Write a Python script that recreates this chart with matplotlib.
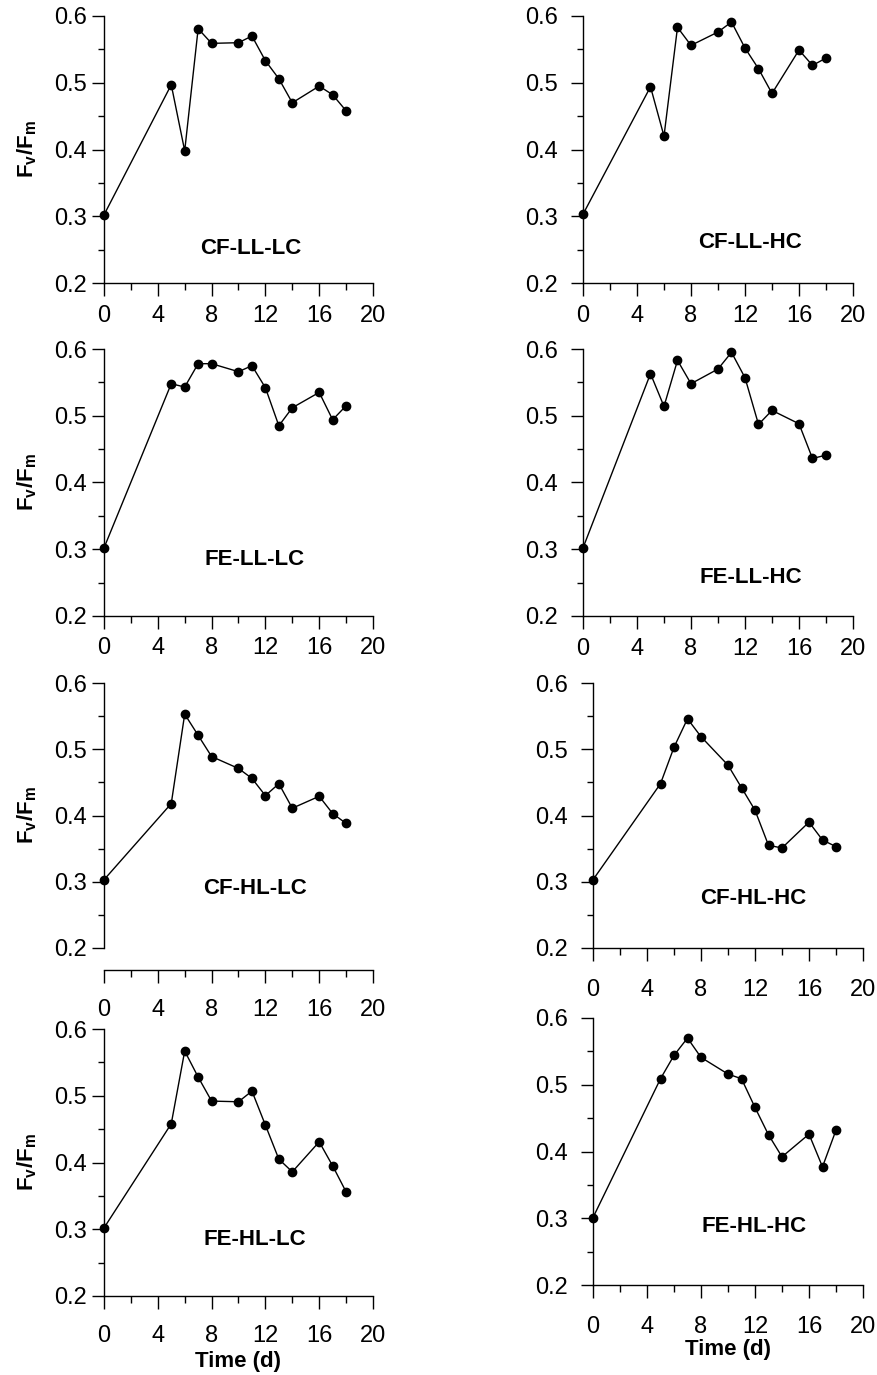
import numpy as np
import matplotlib
matplotlib.use("Agg")
import matplotlib.pyplot as plt
from matplotlib.ticker import MultipleLocator

plt.rcParams['font.family'] = ['Liberation Sans', 'DejaVu Sans']
plt.rcParams['mathtext.fontset'] = 'custom'
plt.rcParams['mathtext.rm'] = 'Liberation Sans'
plt.rcParams['mathtext.bf'] = 'Liberation Sans:bold'
plt.rcParams['mathtext.it'] = 'Liberation Sans:italic'

# sampling days
days = [0, 5, 6, 7, 8, 10, 11, 12, 13, 14, 16, 17, 18]

# Fv/Fm per treatment
cf_ll_lc = [0.302, 0.497, 0.398, 0.581, 0.559, 0.560, 0.570, 0.533, 0.506, 0.470, 0.495, 0.482, 0.458]
cf_ll_hc = [0.303, 0.494, 0.420, 0.583, 0.556, 0.576, 0.591, 0.552, 0.521, 0.484, 0.549, 0.526, 0.537]
fe_ll_lc = [0.302, 0.548, 0.543, 0.578, 0.578, 0.566, 0.575, 0.542, 0.485, 0.512, 0.535, 0.494, 0.515]
fe_ll_hc = [0.302, 0.563, 0.514, 0.583, 0.548, 0.570, 0.595, 0.557, 0.487, 0.508, 0.488, 0.436, 0.441]
cf_hl_lc = [0.303, 0.418, 0.553, 0.521, 0.489, 0.471, 0.456, 0.430, 0.448, 0.411, 0.429, 0.403, 0.388]
cf_hl_hc = [0.303, 0.448, 0.503, 0.546, 0.519, 0.476, 0.442, 0.408, 0.355, 0.351, 0.390, 0.363, 0.353]
fe_hl_lc = [0.302, 0.458, 0.567, 0.528, 0.492, 0.491, 0.507, 0.456, 0.405, 0.386, 0.431, 0.395, 0.356]
fe_hl_hc = [0.301, 0.509, 0.544, 0.570, 0.541, 0.516, 0.509, 0.466, 0.425, 0.392, 0.426, 0.377, 0.432]

names = ['CF-LL-LC', 'CF-LL-HC', 'FE-LL-LC', 'FE-LL-HC',
         'CF-HL-LC', 'CF-HL-HC', 'FE-HL-LC', 'FE-HL-HC']
series = [cf_ll_lc, cf_ll_hc, fe_ll_lc, fe_ll_hc,
          cf_hl_lc, cf_hl_hc, fe_hl_lc, fe_hl_hc]
# where the treatment name sits (data coords)
name_pos = [(10.9, 0.252), (12.4, 0.261), (11.2, 0.284), (12.4, 0.258),
            (11.2, 0.290), (11.9, 0.275), (11.2, 0.284), (11.9, 0.288)]

W, H = 878, 1375
fig = plt.figure(figsize=(W / 100, H / 100), dpi=100)

# panel boxes in pixels: left, right, top, bottom
boxes = [(104, 373, 16, 283), (583, 853, 16, 283),
         (104, 373, 349, 616), (583, 853, 349, 616),
         (104, 373, 683, 948), (593, 863, 683, 948),
         (104, 373, 1029, 1296), (593, 863, 1018, 1285)]
xpads = [7, 7, 6, 7, 12, 13, 12, 13]
xoffset = [0, 0, 0, 0, 16, 0, 0, 0]
# top of the "Time (d)" text under the bottom row, pixels
time_top = {6: 1351, 7: 1339}

for i, (name, vals) in enumerate(zip(names, series)):
    l, r, t, b = boxes[i]
    ax = fig.add_axes([l / W, 1 - b / H, (r - l) / W, (b - t) / H])
    ax.plot(days, vals, '-', color='black', lw=1.0,
            marker='o', ms=6, mfc='black', mec='black', clip_on=False)
    ax.set_xlim(0, 20)
    ax.set_ylim(0.2, 0.6)
    ax.spines['top'].set_visible(False)
    ax.spines['right'].set_visible(False)
    ax.spines['left'].set_linewidth(1.0)
    ax.spines['bottom'].set_linewidth(1.0)
    if xoffset[i]:
        ax.spines['bottom'].set_position(('outward', xoffset[i]))
    ax.xaxis.set_major_locator(MultipleLocator(4))
    ax.xaxis.set_minor_locator(MultipleLocator(2))
    ax.yaxis.set_minor_locator(MultipleLocator(0.05))
    ax.set_yticks([0.2, 0.3, 0.4, 0.5, 0.6])
    ax.set_yticklabels(['0.2', '0.3', '0.4', '0.5', '0.6'])
    ax.tick_params(axis='x', which='major', direction='out', length=9, width=1.0,
                   labelsize=17, pad=xpads[i])
    ax.tick_params(axis='x', which='minor', direction='out', length=5, width=1.0)
    ax.tick_params(axis='y', which='major', direction='out', length=9, width=1.0,
                   labelsize=17, pad=3 if i % 2 == 0 else 9)
    ax.tick_params(axis='y', which='minor', direction='out', length=4.5, width=1.0)
    ax.text(name_pos[i][0], name_pos[i][1], name, ha='center', va='center',
            fontsize=16, fontweight='bold')
    if i % 2 == 0:
        ax.text(-0.287, 0.5, r'$\mathbf{F_v/F_m}$', transform=ax.transAxes,
                rotation=90, ha='center', va='center', fontsize=16)
    if i in time_top:
        fig.text((l + r) / 2 / W, 1 - time_top[i] / H, 'Time (d)',
                 ha='center', va='top', fontsize=16, fontweight='bold')

fig.savefig('out.png', dpi=100)
